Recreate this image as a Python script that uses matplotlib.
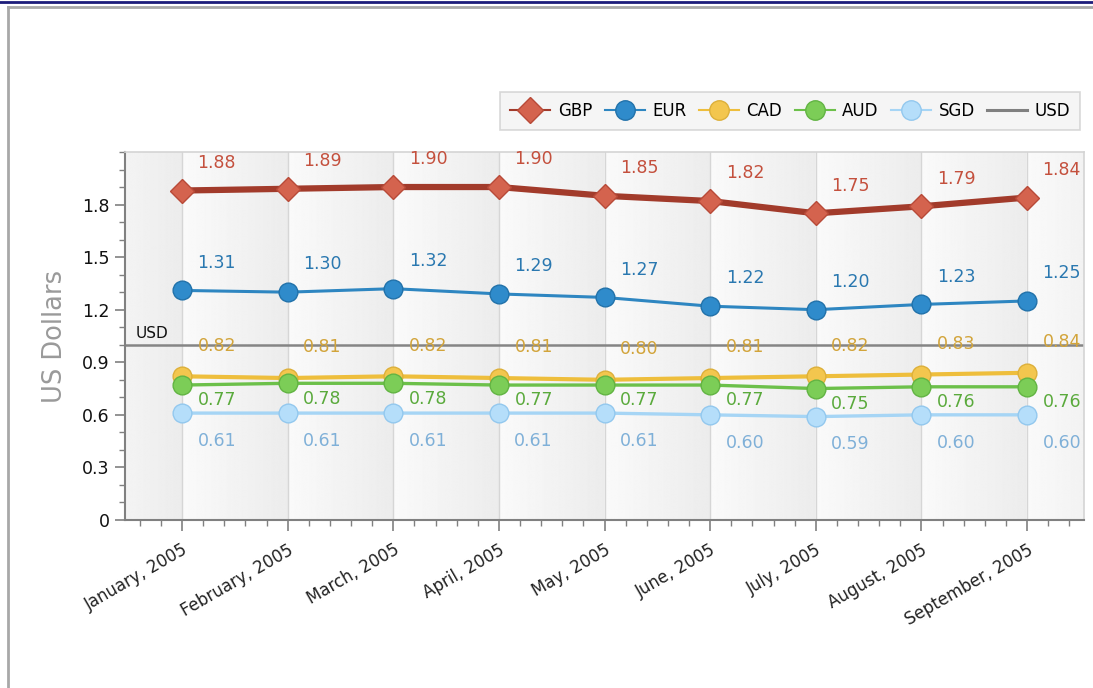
import numpy as np
import matplotlib
matplotlib.use("Agg")
import matplotlib.pyplot as plt
from matplotlib.lines import Line2D
from matplotlib.ticker import MultipleLocator, FuncFormatter

months = ["January, 2005", "February, 2005", "March, 2005", "April, 2005",
          "May, 2005", "June, 2005", "July, 2005", "August, 2005",
          "September, 2005"]
gbp = [1.88, 1.89, 1.90, 1.90, 1.85, 1.82, 1.75, 1.79, 1.84]
eur = [1.31, 1.30, 1.32, 1.29, 1.27, 1.22, 1.20, 1.23, 1.25]
cad = [0.82, 0.81, 0.82, 0.81, 0.80, 0.81, 0.82, 0.83, 0.84]
aud = [0.77, 0.78, 0.78, 0.77, 0.77, 0.77, 0.75, 0.76, 0.76]
sgd = [0.61, 0.61, 0.61, 0.61, 0.61, 0.60, 0.59, 0.60, 0.60]
usd_level = 1.0

plt.rcParams['font.family'] = ['DejaVu Sans']

# name, values, line color, marker, marker face, marker edge, label color, linewidth, label offset (pt)
series = [
    ("GBP", gbp, "#a23b2b", "D", "#d4634e", "#b84a38", "#c4503d", 4.5, 20),
    ("EUR", eur, "#2e86c1", "o", "#2f8bcb", "#2272aa", "#2a78b0", 2.2, 20),
    ("CAD", cad, "#eebe3c", "o", "#f3c64e", "#ddb03a", "#d2a43a", 3.0, 22),
    ("AUD", aud, "#6cc04a", "o", "#7ccd57", "#62b443", "#5aaa3c", 2.4, -11),
    ("SGD", sgd, "#a6d5f5", "o", "#b5defa", "#93c8ee", "#7fb0d8", 2.4, -20),
]

fig = plt.figure(figsize=(10.93, 6.88), dpi=100)
ax = fig.add_axes([0.1144, 0.2442, 0.8774, 0.5349])

x = np.arange(len(months))
xmin, xmax = -0.54, len(months) - 1 + 0.54
ymin, ymax = 0, 2.1

# banded gradient background (light at left of each band, darker at right)
cols = np.linspace(xmin, xmax, 1200)
frac = cols - np.floor(cols)
shade = 0.98 - 0.055 * frac
img = np.tile(shade, (2, 1))
ax.imshow(img, extent=[xmin, xmax, ymin, ymax], aspect="auto", cmap="gray",
          vmin=0, vmax=1, zorder=0, interpolation="bilinear")

for xi in x:
    ax.axvline(xi, color="#d6d6d6", lw=1.0, zorder=1)

ax.axhline(usd_level, color="#858585", lw=1.8, zorder=2)
ax.text(xmin + 0.1, usd_level + 0.02, "USD", fontsize=11, color="#111111",
        ha="left", va="bottom", zorder=3)

for name, vals, lc, mk, mf, me, tc, lw, dy in series:
    ms = 12.5 if mk == "D" else 13.5
    ax.plot(x, vals, color=lc, lw=lw, marker=mk, markersize=ms,
            markerfacecolor=mf, markeredgecolor=me, markeredgewidth=1,
            zorder=4, solid_capstyle="round")
    for xi, v in zip(x, vals):
        ax.annotate(f"{v:.2f}", (xi, v), xytext=(25, dy),
                    textcoords="offset points", ha="center", va="center",
                    fontsize=12.5, color=tc, zorder=5, annotation_clip=False)

ax.set_xlim(xmin, xmax)
ax.set_ylim(ymin, ymax)
ax.set_xticks(x)
ax.set_xticklabels(months, rotation=30, ha="right", rotation_mode="anchor",
                   fontsize=12, color="#222222")
ax.xaxis.set_minor_locator(MultipleLocator(0.2))
ax.set_yticks(np.arange(0, 1.81, 0.3))
ax.yaxis.set_major_formatter(FuncFormatter(lambda v, p: "0" if v == 0 else f"{v:.1f}"))
ax.yaxis.set_minor_locator(MultipleLocator(0.1))
ax.tick_params(axis="y", which="major", length=7, width=1.2, color="#808080",
               labelsize=12.5, labelcolor="#111111", pad=4)
ax.tick_params(axis="x", which="major", length=8, width=1.2, color="#808080", pad=7)
ax.tick_params(which="minor", length=4, width=1.0, color="#808080")

for side in ["left", "bottom"]:
    ax.spines[side].set_color("#808080")
    ax.spines[side].set_linewidth(1.5)
for side in ["top", "right"]:
    ax.spines[side].set_color("#d4d4d4")
    ax.spines[side].set_linewidth(1.2)

ax.set_ylabel("US Dollars", fontsize=18.5, color="#9a9a9a", labelpad=10)

handles = []
for name, vals, lc, mk, mf, me, tc, lw, dy in series:
    handles.append(Line2D([], [], color=lc, lw=1.5, marker=mk,
                          markersize=13 if mk == "D" else 14,
                          markerfacecolor=mf, markeredgecolor=me, label=name))
handles.append(Line2D([], [], color="#808080", lw=2.2, label="USD"))
leg = fig.legend(handles=handles, loc="upper right", ncol=6,
                 bbox_to_anchor=(0.9885, 0.866), frameon=True, fontsize=12,
                 handlelength=2.4, handletextpad=0.45, columnspacing=0.75,
                 borderpad=0.6, borderaxespad=0, fancybox=False)
leg.get_frame().set_facecolor("#f3f3f3")
leg.get_frame().set_edgecolor("#cfcfcf")
leg.get_frame().set_linewidth(1.2)

# page frame lines
fig.add_artist(Line2D([0, 1], [0.9965, 0.9965], color="#1c1c7a", lw=2.0))
fig.add_artist(Line2D([0.0075, 1], [0.990, 0.990], color="#a8a8a8", lw=2.0))
fig.add_artist(Line2D([0.0075, 0.0075], [0, 0.990], color="#a8a8a8", lw=2.0))

fig.savefig("out.png", dpi=100)
